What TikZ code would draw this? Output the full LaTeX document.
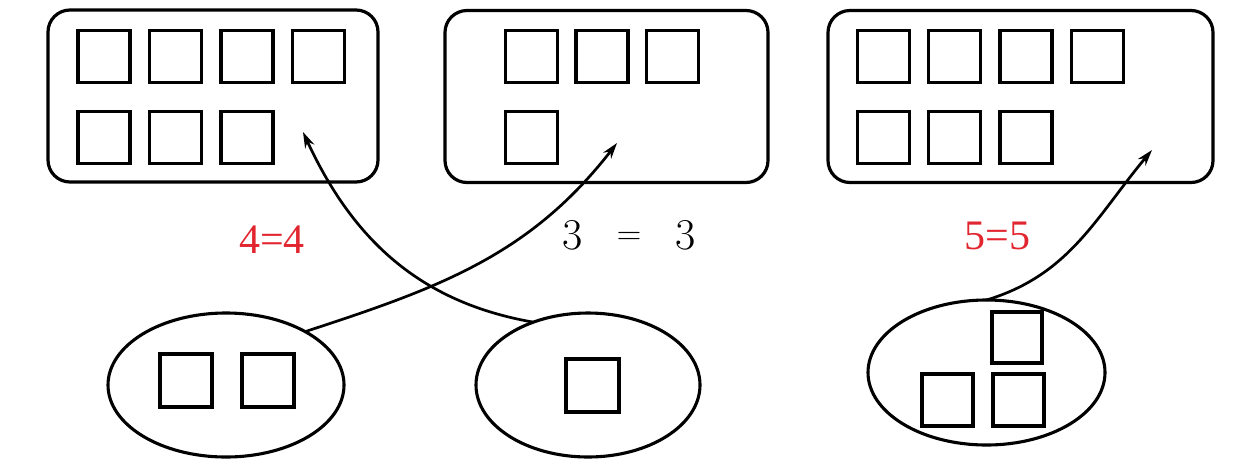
\documentclass[tikz,border=0pt]{standalone}
\usepackage{fontspec}
\usepackage{xcolor}
\usepackage{tikz}
\usetikzlibrary{arrows.meta,shapes.geometric}
\newfontfamily\eqserif{LiberationSerif-Regular.ttf}
\definecolor{eqred}{RGB}{226,38,48}

\begin{document}
\begin{tikzpicture}[
    x=1pt,
    y=-1pt,
    >={Stealth[length=16pt, width=10pt]},
    tray/.style={draw=black, line width=3.2pt, rounded corners=22pt,
                 minimum width=#1, minimum height=172pt, inner sep=0pt, outer sep=0pt},
    bag/.style={ellipse, draw=black, line width=3.1pt, minimum width=236pt,
                minimum height=144pt, inner sep=0pt, outer sep=0pt},
    sq/.style={draw=black, line width=3.3pt, minimum width=52pt,
               minimum height=52pt, inner sep=0pt},
    link/.style={->, line width=2.7pt, black},
    redlabel/.style={font=\eqserif\fontsize{42}{48}\selectfont, text=eqred},
    blacklabel/.style={font=\fontsize{44}{50}\selectfont, text=black},
]
\useasboundingbox (0,0) rectangle (1244,459);

% upper trays
\node[tray=330pt] (t1) at (213,96) {};
\node[tray=323pt] (t2) at (606.5,96.5) {};
\node[tray=385pt] (t3) at (1020.5,96.5) {};
\foreach \i in {0,...,3}
  \node[sq] (t1a\i) at ({104+71.5*\i},56.5) {};
\foreach \i in {0,...,2}
  \node[sq] (t1b\i) at ({104+71.5*\i},137.5) {};
\foreach \i in {0,...,2}
  \node[sq] (t2a\i) at ({531.5+70.5*\i},56.5) {};
\node[sq] (t2b0) at (531.5,137.5) {};
\foreach \i in {0,...,3}
  \node[sq] (t3a\i) at ({883.5+71.3*\i},56.5) {};
\foreach \i in {0,...,2}
  \node[sq] (t3b\i) at ({883.5+71.3*\i},137.5) {};

% lower bags
\node[bag] (b1) at (226,385) {};
\node[bag, minimum width=224pt] (b2) at (588,385) {};
\node[bag, minimum width=237pt, minimum height=145pt] (b3) at (986.5,372.5) {};
\node[sq, minimum height=53pt] (b1s0) at (186,380.5) {};
\node[sq, minimum height=53pt] (b1s1) at (268,380.5) {};
\node[sq, minimum width=53pt, minimum height=53pt] (b2s0) at (592.5,385.5) {};
\node[sq, minimum width=50pt, minimum height=51pt] (b3s0) at (1017,337.5) {};
\node[sq, minimum width=51pt] (b3s1) at (947.5,400) {};
\node[sq, minimum width=51pt] (b3s2) at (1018.5,400) {};

% arrow ends
\coordinate (p1) at (303,132);
\coordinate (p2) at (617,143);
\coordinate (p3) at (1152,150);
\draw[link] (b2.131) .. controls +(-115,-20) and +(49,106) .. (p1);
\draw[link] (b1.34) .. controls +(135,-44) and +(-87,112) .. (p2);
\draw[link] (b3.north) .. controls +(83,-25) and +(-56,67) .. (p3);

% equalities
\node[redlabel] (eq1) at (272,240) {4=4};
\node[blacklabel] (eq2) at (629,235)
  {3\hspace{34pt}\raisebox{5pt}{\fontsize{34}{40}\selectfont =}\hspace{34pt}3};
\node[redlabel] (eq3) at (997.5,236) {5=5};
\end{tikzpicture}
\end{document}
